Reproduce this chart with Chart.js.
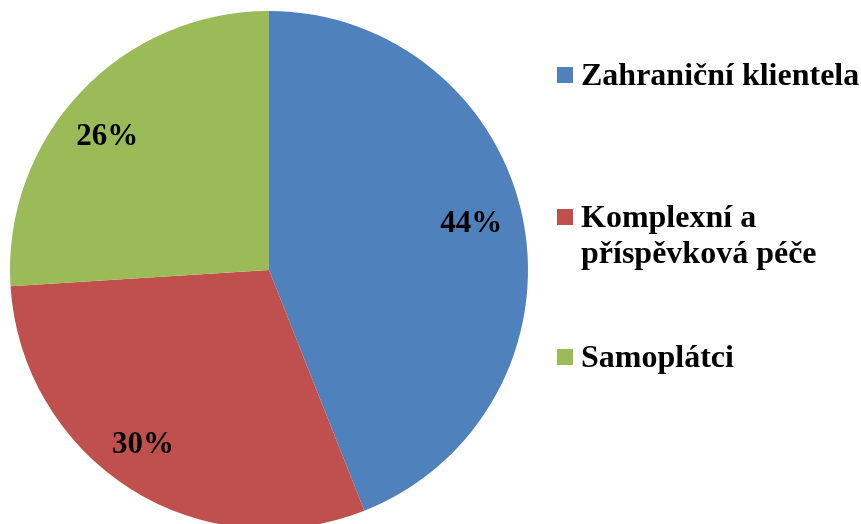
<!DOCTYPE html>
<html>
<head>
<meta charset="utf-8">
<script src="https://cdn.jsdelivr.net/npm/chart.js@4/dist/chart.umd.min.js"></script>
<style>
html,body{margin:0;padding:0;background:#fff;overflow:hidden;width:861px;height:524px;}
#wrap{position:absolute;left:0;top:0;width:861px;height:540px;}
</style>
</head>
<body>
<div id="wrap"><canvas id="c" width="861" height="540"></canvas></div>
<script>
const categories = ["Zahraniční klientela", "Komplexní a příspěvková péče", "Samoplátci"];
const legendLines = [["Zahraniční klientela"], ["Komplexní a", "příspěvková péče"], ["Samoplátci"]];
const values = [44, 30, 26];
const colors = ["#4F81BD", "#C0504D", "#9BBB59"];

const SERIF = '"Liberation Serif", "Times New Roman", serif';

const labelPlugin = {
  id: 'pctLabels',
  afterDatasetsDraw(chart, args, opts) {
    const ctx = chart.ctx;
    const meta = chart.getDatasetMeta(0);
    const total = values.reduce((a, b) => a + b, 0);
    const size = opts.size;
    ctx.save();
    ctx.font = 'bold ' + size + 'px ' + SERIF;
    ctx.fillStyle = '#000';
    ctx.textAlign = 'center';
    ctx.textBaseline = 'alphabetic';
    meta.data.forEach((arc, i) => {
      const p = arc.getProps(['x', 'y', 'startAngle', 'endAngle', 'outerRadius'], true);
      const mid = (p.startAngle + p.endAngle) / 2;
      const r = p.outerRadius * opts.radial;
      const n = opts.nudge[i] || [0, 0];
      const x = p.x + Math.cos(mid) * r + n[0];
      const y = p.y + Math.sin(mid) * r + n[1];
      ctx.fillText(Math.round(values[i] / total * 100) + '%', x, y + size * 0.34);
    });
    ctx.restore();
  }
};

const legendPlugin = {
  id: 'sideLegend',
  afterDraw(chart, args, opts) {
    const ctx = chart.ctx;
    ctx.save();
    ctx.font = 'bold ' + opts.size + 'px ' + SERIF;
    ctx.textAlign = 'left';
    ctx.textBaseline = 'alphabetic';
    legendLines.forEach((lines, i) => {
      const b = opts.baselines[i];
      ctx.fillStyle = colors[i];
      ctx.fillRect(opts.boxX, b - 18, 16, 16);
      ctx.fillStyle = '#000';
      lines.forEach((t, j) => ctx.fillText(t, opts.textX, b + j * opts.lineH));
    });
    ctx.restore();
  }
};

new Chart(document.getElementById('c'), {
  type: 'pie',
  data: {
    labels: categories,
    datasets: [{
      data: values,
      backgroundColor: colors,
      borderWidth: 0
    }]
  },
  options: {
    responsive: false,
    animation: false,
    layout: { padding: { left: 10, top: 11, right: 333, bottom: 11 } },
    plugins: {
      legend: { display: false },
      tooltip: { enabled: false },
      pctLabels: { size: 31, radial: 0.815, nudge: [[-5, -9], [-13, -6], [-8, 9]] },
      sideLegend: { size: 32, baselines: [85, 227, 367], lineH: 36, boxX: 557, textX: 581 }
    }
  },
  plugins: [labelPlugin, legendPlugin]
});
</script>
</body>
</html>
